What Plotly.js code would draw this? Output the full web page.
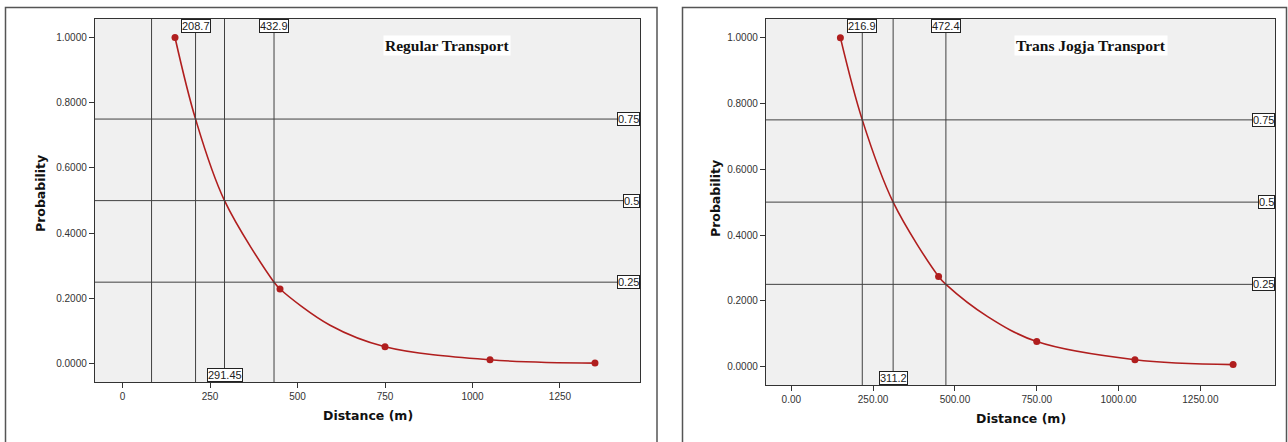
<!DOCTYPE html>
<html>
<head>
<meta charset="utf-8">
<script src="https://cdn.plot.ly/plotly-3.0.1.min.js"></script>
<style>html,body{margin:0;padding:0;background:#fff;}#chart{width:1288px;height:442px;}</style>
</head>
<body>
<div id="chart"></div>
<script>
// ---- Data ----
const regDist = [150, 450, 750, 1050, 1350];
const regProb = [1.0, 0.229, 0.052, 0.012, 0.002];
const regCurveDist = [150, 208.7, 291.45, 432.9, 450, 593, 750, 1050, 1350];
const regCurveProb = [1.0, 0.75, 0.5, 0.25, 0.229, 0.118, 0.052, 0.012, 0.002];
const regVLines = [83, 208.7, 291.45, 432.9];
const regVLabelsTop = ["208.7", "432.9"];
const regVLabelsTopX = [208.7, 432.9];
const regVLabelsBottom = ["291.45"];
const regVLabelsBottomX = [291.45];

const tjDist = [150, 450, 750, 1050, 1350];
const tjProb = [1.0, 0.274, 0.076, 0.021, 0.006];
const tjCurveDist = [150, 216.9, 311.2, 450, 472.4, 600, 750, 1050, 1350];
const tjCurveProb = [1.0, 0.75, 0.5, 0.274, 0.25, 0.152, 0.076, 0.021, 0.006];
const tjVLines = [216.9, 311.2, 472.4];
const tjVLabelsTop = ["216.9", "472.4"];
const tjVLabelsTopX = [216.9, 472.4];
const tjVLabelsBottom = ["311.2"];
const tjVLabelsBottomX = [311.2];

const hLines = [0.75, 0.5, 0.25];
const hLabels = ["0.75", "0.5", "0.25"];
const xTicks = [0, 250, 500, 750, 1000, 1250];
const yTicks = [0, 0.2, 0.4, 0.6, 0.8, 1.0];
const titles = ["Regular Transport", "Trans Jogja Transport"];

// ---- Layout helpers ----
const W = 1288, H = 442;
const px = v => v / W;
const py = v => (H - v) / H;
const red = "#b01e1e";
const lineCol = "#404040";
const tickFont = {family: "Liberation Sans, Arial, sans-serif", size: 10, color: "#333"};

function axisX(domain, range, fmt) {
  return {domain: domain, range: range, tickvals: xTicks, tickformat: fmt,
    ticks: "outside", ticklen: 5, tickcolor: "#333", tickfont: tickFont,
    showgrid: false, zeroline: false, showline: true, mirror: true,
    linecolor: "#333", linewidth: 1.2, fixedrange: true};
}
function axisY(domain, anchor) {
  return {domain: domain, range: [-0.056, 1.0567], tickvals: yTicks, tickformat: ".4f",
    ticks: "outside", ticklen: 5, tickcolor: "#333", tickfont: tickFont,
    showgrid: false, zeroline: false, showline: true, mirror: true,
    linecolor: "#333", linewidth: 1.2, anchor: anchor, fixedrange: true};
}

const traces = [
  {x: regCurveDist, y: regCurveProb, xaxis: "x", yaxis: "y", mode: "lines",
   line: {color: red, width: 1.6, shape: "spline", smoothing: 1}, hoverinfo: "skip"},
  {x: regDist, y: regProb, xaxis: "x", yaxis: "y", mode: "markers",
   marker: {color: red, size: 7}},
  {x: tjCurveDist, y: tjCurveProb, xaxis: "x2", yaxis: "y2", mode: "lines",
   line: {color: red, width: 1.6, shape: "spline", smoothing: 1}, hoverinfo: "skip"},
  {x: tjDist, y: tjProb, xaxis: "x2", yaxis: "y2", mode: "markers",
   marker: {color: red, size: 7}}
];

const shapes = [];
const annotations = [];
const labFont = {family: "Liberation Sans, Arial, sans-serif", size: 11, color: "#222"};

function addPanel(xa, ya, vlines, topL, topX, botL, botX) {
  vlines.forEach(v => shapes.push({type: "line", xref: xa, yref: ya + " domain",
    x0: v, x1: v, y0: 0, y1: 1, line: {color: lineCol, width: 1}}));
  hLines.forEach(h => shapes.push({type: "line", xref: xa + " domain", yref: ya,
    x0: 0, x1: 1, y0: h, y1: h, line: {color: lineCol, width: 1}}));
  topL.forEach((t, i) => annotations.push({text: t, xref: xa, yref: ya + " domain",
    x: topX[i], y: 1, xanchor: "center", yanchor: "top", showarrow: false,
    font: labFont, bgcolor: "#fff", bordercolor: "#222", borderwidth: 1, borderpad: 0}));
  botL.forEach((t, i) => annotations.push({text: t, xref: xa, yref: ya + " domain",
    x: botX[i], y: 0, xanchor: "center", yanchor: "bottom", showarrow: false,
    font: labFont, bgcolor: "#fff", bordercolor: "#222", borderwidth: 1, borderpad: 0}));
  hLabels.forEach((t, i) => annotations.push({text: t, xref: xa + " domain", yref: ya,
    x: 1, y: hLines[i], xanchor: "right", yanchor: "middle", showarrow: false,
    font: labFont, bgcolor: "#fff", bordercolor: "#222", borderwidth: 1, borderpad: 0}));
}
addPanel("x", "y", regVLines, regVLabelsTop, regVLabelsTopX, regVLabelsBottom, regVLabelsBottomX);
addPanel("x2", "y2", tjVLines, tjVLabelsTop, tjVLabelsTopX, tjVLabelsBottom, tjVLabelsBottomX);

// outer frames
shapes.push({type: "rect", xref: "paper", yref: "paper", x0: px(5.5), x1: px(657), y0: py(460), y1: py(7.5),
  line: {color: "#555", width: 1.5}, layer: "below"});
shapes.push({type: "rect", xref: "paper", yref: "paper", x0: px(682.5), x1: px(1286.5), y0: py(460), y1: py(7.5),
  line: {color: "#555", width: 1.5}, layer: "below"});

const axTitleFont = {family: "DejaVu Sans, Verdana, sans-serif", size: 12.5, color: "#111", weight: "bold"};
const titleFont = {family: "Liberation Serif, Times New Roman, serif", size: 15.5, color: "#111", weight: "bold"};
annotations.push({text: "<b>Distance (m)</b>", xref: "paper", yref: "paper", x: px(367.5), y: py(415),
  xanchor: "center", yanchor: "middle", showarrow: false, font: axTitleFont});
annotations.push({text: "<b>Distance (m)</b>", xref: "paper", yref: "paper", x: px(1021), y: py(418),
  xanchor: "center", yanchor: "middle", showarrow: false, font: axTitleFont});
annotations.push({text: "<b>Probability</b>", xref: "paper", yref: "paper", x: px(40), y: py(194),
  xanchor: "center", yanchor: "middle", showarrow: false, textangle: -90, font: axTitleFont});
annotations.push({text: "<b>Probability</b>", xref: "paper", yref: "paper", x: px(716), y: py(199),
  xanchor: "center", yanchor: "middle", showarrow: false, textangle: -90, font: axTitleFont});
annotations.push({text: "<b>" + titles[0] + "</b>", xref: "paper", yref: "paper", x: px(447), y: py(46),
  xanchor: "center", yanchor: "middle", showarrow: false, font: titleFont, bgcolor: "#fff", borderpad: 1});
annotations.push({text: "<b>" + titles[1] + "</b>", xref: "paper", yref: "paper", x: px(1091), y: py(46),
  xanchor: "center", yanchor: "middle", showarrow: false, font: titleFont, bgcolor: "#fff", borderpad: 1});

const layout = {
  width: W, height: H, margin: {l: 0, r: 0, t: 0, b: 0},
  paper_bgcolor: "#fff", plot_bgcolor: "#f0f0f0", showlegend: false,
  xaxis: axisX([px(95), px(640)], [-78.6, 1478.6], "d"),
  yaxis: axisY([py(382), py(19)], "x"),
  xaxis2: axisX([px(766), px(1275)], [-77.3, 1478], ".2f"),
  yaxis2: axisY([py(385), py(19)], "x2"),
  shapes: shapes, annotations: annotations
};
layout.xaxis.anchor = "y";
layout.xaxis2.anchor = "y2";

Plotly.newPlot("chart", traces, layout, {displayModeBar: false, staticPlot: true});
</script>
</body>
</html>
